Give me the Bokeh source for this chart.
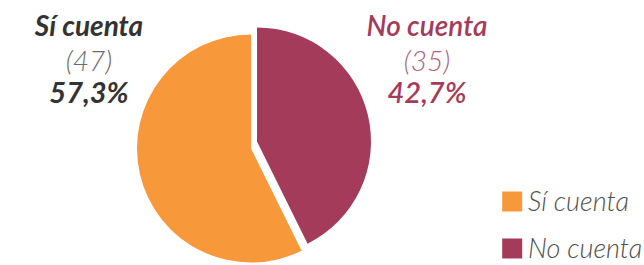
import math
from bokeh.plotting import figure
from bokeh.models import Range1d, ColumnDataSource
from bokeh.core.properties import value
from bokeh.embed import file_html
from bokeh.resources import INLINE

# ---- data ----
categories = ["Sí cuenta", "No cuenta"]
counts = [47, 35]
slice_colors = ["#F7993A", "#A53B5B"]
label_colors = ["#333333", "#A53B5B"]
count_colors = ["#6a6a6a", "#B0607A"]

# ---- layout (data units == pixels) ----
W, H = 644, 265
CX, CY, R = 250.5, 117.0, 114.0
EXPLODE = {"No cuenta": (6.0, 7.0)}
LABEL_X = {"Sí cuenta": 88.5, "No cuenta": 426.5}
LABEL_Y = [241.0, 206.0, 174.5]
LABEL_FONTS = {"Sí cuenta": ("Lato", "bold italic"),
               "No cuenta": ("'Lato Semibold', Lato", "italic")}
LEG_SQ_X, LEG_TEXT_X = 511.7, 527.5
LEG_ROW_Y = [64.0, 17.0]
LEG_TEXT_DY = 1.0

p = figure(width=W, height=H, x_range=Range1d(0, W), y_range=Range1d(0, H),
           output_backend="svg", toolbar_location=None, min_border=0)
p.axis.visible = False
p.grid.visible = False
p.outline_line_color = None
p.background_fill_color = "white"
p.border_fill_color = "white"

total = sum(counts)

# slices: "No cuenta" starts at 12 o'clock going clockwise, then "Sí cuenta"
order = ["No cuenta", "Sí cuenta"]
wx, wy, ws, we, wc = [], [], [], [], []
start = math.pi / 2
for name in order:
    i = categories.index(name)
    sweep = counts[i] / total * 2 * math.pi
    end = start - sweep
    dx, dy = EXPLODE.get(name, (0.0, 0.0))
    wx.append(CX + dx)
    wy.append(CY + dy)
    ws.append(start)
    we.append(end)
    wc.append(slice_colors[i])
    start = end

src = ColumnDataSource(dict(x=wx, y=wy, start=ws, end=we, color=wc))
p.wedge(x="x", y="y", radius=R, start_angle="start", end_angle="end",
        direction="clock", fill_color="color", line_color=None, source=src)

# slice labels
def pct(v):
    return f"{v / total * 100:.1f}".replace(".", ",") + "%"

for i, name in enumerate(categories):
    x = LABEL_X[name]
    font, style = LABEL_FONTS[name]
    p.text(x=[x], y=[LABEL_Y[0]], text=[name], text_align="center",
           text_baseline="alphabetic", text_font=value(font),
           text_font_style=style, text_font_size="28px", text_color=label_colors[i])
    p.text(x=[x], y=[LABEL_Y[1]], text=[f"({counts[i]})"], text_align="center",
           text_baseline="alphabetic", text_font=value("'Lato Light', Lato"),
           text_font_style="italic", text_font_size="28px", text_color=count_colors[i])
    p.text(x=[x], y=[LABEL_Y[2]], text=[pct(counts[i])], text_align="center",
           text_baseline="alphabetic", text_font=value(font),
           text_font_style=style, text_font_size="29px", text_color=label_colors[i])

# legend
p.rect(x=[LEG_SQ_X] * len(categories), y=LEG_ROW_Y, width=20, height=20,
       fill_color=slice_colors, line_color=None)
p.text(x=[LEG_TEXT_X] * len(categories), y=[y + LEG_TEXT_DY for y in LEG_ROW_Y],
       text=categories, text_align="left", text_baseline="alphabetic",
       text_font=value("'Lato Light', Lato"), text_font_style="italic",
       text_font_size="27px", text_color="#505050")

open("out.html", "w").write(file_html(p, INLINE))
